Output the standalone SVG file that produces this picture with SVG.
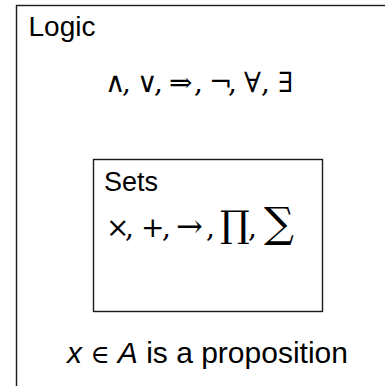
<svg xmlns="http://www.w3.org/2000/svg" width="385" height="386" viewBox="0 0 385 386">
<style>
.box{fill:#fff;stroke:#1a1a1a;stroke-width:1.4}
.lbl{font-family:"Liberation Sans",Arial,sans-serif;fill:#000}
.math{font-family:"DejaVu Serif","Liberation Serif",serif;fill:#000}
</style>
<rect width="385" height="386" fill="#fff"/>
<g id="logic">
<rect class="box" x="16.5" y="5.5" width="400" height="400"/>
<text class="lbl" x="28.5" y="36" font-size="28">Logic</text>
<text class="math" y="92" font-size="28"><tspan x="105">∧</tspan><tspan x="122">,</tspan><tspan x="137">∨</tspan><tspan x="154">,</tspan><tspan x="169">⇒</tspan><tspan x="194">,</tspan><tspan x="209">¬</tspan><tspan x="228">,</tspan><tspan x="244">∀</tspan><tspan x="261">,</tspan><tspan x="278">∃</tspan></text>
<text x="207.5" y="363" text-anchor="middle" font-size="30"><tspan class="lbl" font-style="italic">x</tspan><tspan class="math" font-size="26"> ∈ </tspan><tspan class="lbl" font-style="italic">A</tspan><tspan class="lbl"> is a proposition</tspan></text>
</g>
<g id="sets">
<rect class="box" x="93.5" y="159.5" width="229" height="152"/>
<text class="lbl" x="104" y="191" font-size="27">Sets</text>
<text class="math" y="237" font-size="28"><tspan x="106">×</tspan><tspan x="125">,</tspan><tspan x="141">+</tspan><tspan x="162">,</tspan><tspan x="176" font-size="32">→</tspan><tspan x="206">,</tspan><tspan x="220" font-size="37">∏</tspan><tspan x="248">,</tspan><tspan x="264" font-size="42">∑</tspan></text>
</g>
</svg>
